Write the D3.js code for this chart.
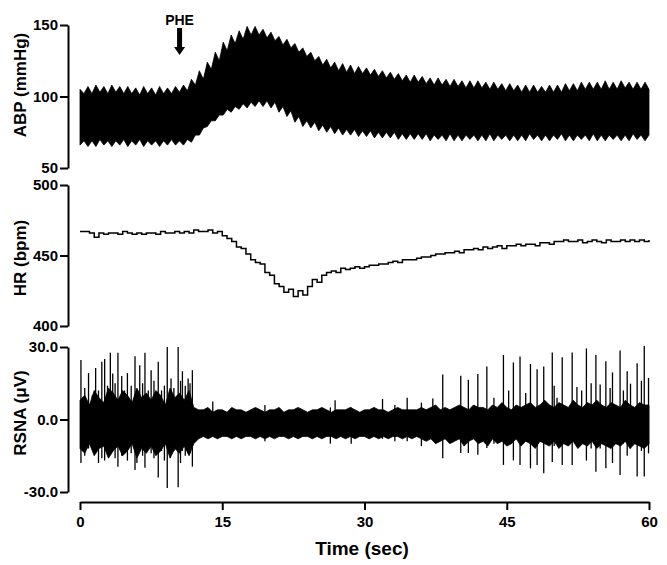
<!DOCTYPE html>
<html><head><meta charset="utf-8">
<script src="https://cdn.jsdelivr.net/npm/d3@7"></script>
<style>
body{margin:0;background:#fff}
svg{display:block}
text{font-family:"Liberation Sans",Arial,Helvetica,sans-serif;font-weight:bold;fill:#000}
</style>
</head><body>
<svg id="chart" width="667" height="565"></svg>
<script>
// ---------- DATA ----------
const timeTicks = [0, 15, 30, 45, 60];
const abpTicks = [50, 100, 150];
const hrTicks = [400, 450, 500];
const rsnaTicks = [-30, 0, 30];
const pheTime = 10.5;

// ABP envelope sampled every respiratory half-cycle (60/143 s)
const abpStep = 60 / 143;
const abpTop = [
105,102,107,102,108,103,107,102,108,103,107,102,107,102,106,101,107,102,106,101,107,102,106,102,107,103,
108,104,112,108,118,112,124,119,131,125,138,132,143,137,146,140,149,143,149,143,147,141,145,139,142,136,140,134,137,131,134,128,131,125,128,122,126,120,124,118,123,117,122,116,121,116,
120,115,119,114,118,113,117,112,116,111,115,110,115,110,114,109,113,108,113,108,112,107,112,107,111,106,111,106,111,106,110,105,110,105,109,104,109,104,108,103,108,103,108,103,107,103,108,103,108,103,109,104,109,104,110,105,110,105,110,105,111,105,110,105,111,106,110,105,110,105,110,105
];
const abpBottom = [
66,69,65,69,65,70,66,69,65,69,66,70,65,69,66,70,65,69,66,69,65,69,66,70,66,69,
66,70,68,73,73,78,79,83,83,87,87,91,89,93,91,95,92,96,93,97,93,97,92,96,89,93,86,90,82,86,79,83,78,82,76,80,75,79,74,78,73,77,73,77,72,76,
72,76,71,75,71,75,71,75,70,74,70,74,70,74,70,74,69,73,70,73,69,74,69,73,69,73,70,73,69,73,69,74,69,73,70,73,69,73,69,73,69,74,70,73,69,73,69,73,70,74,69,73,69,73,70,73,69,74,69,73,69,73,70,73,69,73,69,74,70,73,69,73
];

// Heart rate every 0.5 s
const hrStep = 0.5;
const hrValues = [
467,467,466,463,466,465,466,466,465,467,
466,465,466,465,466,466,465,467,466,466,
467,466,467,466,468,467,467,468,466,467,
464,462,460,456,455,451,447,445,444,438,
436,430,428,424,426,421,425,422,428,433,
431,436,438,439,438,441,440,441,442,441,
442,443,443,444,444,445,446,445,447,447,
447,448,449,449,450,451,451,452,452,453,
452,454,454,455,454,456,455,456,457,455,
457,457,458,457,458,458,457,459,459,458,
460,460,461,460,460,461,459,460,461,460,
459,461,460,460,461,460,461,460,461,460,
461
];

// RSNA dense band envelope every 0.5 s
const rsnaStep = 0.5;
const rsnaHigh = [
8,10,6,12,9,7,13,11,8,12,
10,7,13,9,11,8,12,10,6,13,
9,11,8,12,5,4,4,5,3,4,
4,3,5,4,4,3,4,5,4,3,
4,4,5,3,4,4,5,4,3,4,
4,5,4,3,4,4,4,5,4,3,
4,4,5,4,4,3,4,5,4,4,
4,4,5,4,5,6,4,5,4,5,
6,5,4,6,5,5,4,6,5,7,
5,4,6,5,6,7,5,6,8,6,
5,7,6,5,8,6,5,7,6,8,
6,5,7,6,5,8,6,5,7,6,
6
];
const rsnaLow = [
-12,-14,-10,-15,-12,-11,-16,-13,-11,-15,
-13,-10,-16,-12,-14,-11,-15,-13,-10,-16,
-12,-14,-11,-15,-10,-8,-7,-8,-7,-8,
-7,-7,-8,-7,-8,-7,-7,-8,-7,-8,
-7,-8,-7,-7,-8,-7,-8,-7,-7,-8,
-7,-8,-7,-7,-8,-7,-8,-7,-8,-7,
-7,-8,-7,-8,-7,-8,-7,-7,-8,-7,
-8,-7,-8,-9,-8,-10,-9,-8,-10,-9,
-8,-11,-9,-8,-10,-9,-11,-8,-10,-9,
-11,-10,-8,-11,-9,-10,-12,-9,-10,-11,
-9,-12,-10,-11,-9,-12,-10,-11,-9,-12,
-10,-11,-12,-10,-11,-9,-12,-10,-11,-12,
-10
];

// RSNA spikes (time s, peak µV, trough µV)
const spikeTime = [
0.1,0.5,0.9,1.3,1.65,1.95,2.3,2.6,2.9,3.2,3.45,3.7,4.0,4.4,4.7,5.0,5.4,5.8,6.0,6.3,6.6,6.85,7.2,7.5,7.8,8.25,8.6,8.9,9.2,9.6,9.9,10.35,10.6,10.8,11.1,11.4,11.6,11.85,
14.0,19.5,26.4,26.9,28.6,31.9,33.2,34.5,36.0,
37.2,38.25,40.15,40.95,41.95,42.9,43.65,44.65,45.2,45.7,46.4,47.0,47.5,48.2,48.9,49.8,50.0,50.3,50.85,51.9,52.4,52.9,53.4,53.9,54.4,54.85,55.45,55.9,56.15,56.95,57.3,57.7,58.05,58.75,59.2,59.5,59.95
];
const spikeHigh = [
24.6,13,19.2,10,21.3,12,23.9,25,14,27.6,19,15,27.6,18,12,19.2,14,26.2,11,22.5,15,27.6,12,20.4,16,23.9,12,14,30,17,13,30,16,20,14,17,15,20.4,
7.5,6,5,8,5,8.5,6,9,7,
8.7,18.6,18.1,16.5,18.8,21.9,9,26.7,12,23.6,26.1,11,23,20.8,21.9,27.7,14,9,25.8,27.7,13.5,12,29.4,15,26.7,14.5,24.1,13,19.5,28.6,12,20,14.8,23.3,16,30.4,17.2
];
const spikeLow = [
-18,-15,-12,-11,-13,-18,-16,-17,-12,-14,-12,-16,-19.5,-15,-11,-17,-14,-20.9,-18,-13,-15,-20,-12,-14,-16,-24,-13,-17,-28.3,-12,-13,-28,-18,-13,-15,-14,-14,-19.5,
-6,-9,-10,-7,-10,-8,-9,-9,-11,
-8,-16,-13.9,-13.9,-14.6,-11.8,-10,-18.8,-10,-16.9,-18.8,-9,-20.2,-18.8,-22.2,-17.6,-11,-10,-18.8,-18.8,-9,-9,-17,-12,-21.6,-12,-20.2,-11,-18,-23,-10,-15,-12,-23.6,-13,-23.6,-14
];

// ---------- CHART ----------
const svg = d3.select("#chart");
const x = d3.scaleLinear().domain([0, 60]).range([80, 649]);
const yABP = d3.scaleLinear().domain([50, 150]).range([168, 25]);
const yHR = d3.scaleLinear().domain([400, 500]).range([326, 185]);
const yRSNA = d3.scaleLinear().domain([-30, 30]).range([492, 347]);
const axisX = 68;

// ABP band
const nABP = Math.min(abpTop.length, abpBottom.length);
svg.append("path")
  .datum(abpTop.slice(0, nABP))
  .attr("fill", "#000")
  .attr("stroke", "#000")
  .attr("stroke-width", 0.8)
  .attr("d", d3.area()
    .x((d, i) => x(Math.min(60, i * abpStep)))
    .y1(d => yABP(d))
    .y0((d, i) => yABP(abpBottom[i])));

// HR trace
svg.append("path")
  .datum(hrValues)
  .attr("fill", "none")
  .attr("stroke", "#000")
  .attr("stroke-width", 1.5)
  .attr("d", d3.line()
    .x((d, i) => x(i * hrStep))
    .y(d => yHR(d))
    .curve(d3.curveStepAfter));

// RSNA band
svg.append("path")
  .datum(rsnaHigh)
  .attr("fill", "#000")
  .attr("stroke", "#000")
  .attr("stroke-width", 0.8)
  .attr("d", d3.area()
    .x((d, i) => x(i * rsnaStep))
    .y1(d => yRSNA(d))
    .y0((d, i) => yRSNA(rsnaLow[i])));

// RSNA spikes
svg.append("g").selectAll("line")
  .data(spikeTime)
  .join("line")
  .attr("x1", d => x(d)).attr("x2", d => x(d))
  .attr("y1", (d, i) => yRSNA(spikeHigh[i]))
  .attr("y2", (d, i) => yRSNA(spikeLow[i]))
  .attr("stroke", "#000")
  .attr("stroke-width", 1.3);

// Axes
function styleAxis(g) {
  g.select(".domain").attr("stroke", "#000").attr("stroke-width", 2);
  g.selectAll(".tick line").attr("stroke", "#000").attr("stroke-width", 2);
  g.selectAll(".tick text").style("font-size", "15px").style("font-weight", "bold")
    .style("font-family", '"Liberation Sans", Arial, sans-serif').attr("fill", "#000");
}
svg.append("g").attr("transform", `translate(${axisX},0)`)
  .call(d3.axisLeft(yABP).tickValues(abpTicks).tickSize(8).tickSizeOuter(0).tickPadding(2).tickFormat(d3.format("d")))
  .call(styleAxis);
svg.append("g").attr("transform", `translate(${axisX},0)`)
  .call(d3.axisLeft(yHR).tickValues(hrTicks).tickSize(8).tickSizeOuter(0).tickPadding(2).tickFormat(d3.format("d")))
  .call(styleAxis);
svg.append("g").attr("transform", `translate(${axisX},0)`)
  .call(d3.axisLeft(yRSNA).tickValues(rsnaTicks).tickSize(8).tickSizeOuter(0).tickPadding(2).tickFormat(d => d3.format(".1f")(d).replace("\u2212", "-")))
  .call(styleAxis);
svg.append("g").attr("transform", `translate(0,502)`)
  .call(d3.axisBottom(x).tickValues(timeTicks).tickSize(8).tickSizeOuter(0).tickPadding(6).tickFormat(d3.format("d")))
  .call(styleAxis);

// Axis titles
[["ABP (mmHg)", 85], ["HR (bpm)", 258], ["RSNA (\u03bcV)", 413]].forEach(([t, cy]) => {
  svg.append("text")
    .attr("transform", `translate(20,${cy}) rotate(-90)`)
    .attr("text-anchor", "middle")
    .attr("dy", "0.36em")
    .style("font-size", "17px")
    .text(t);
});
svg.append("text")
  .attr("x", 362).attr("y", 555)
  .attr("text-anchor", "middle")
  .style("font-size", "19px")
  .text("Time (sec)");

// PHE marker
const px = x(pheTime);
svg.append("text")
  .attr("x", px).attr("y", 25)
  .attr("text-anchor", "middle")
  .style("font-size", "14px")
  .text("PHE");
svg.append("path")
  .attr("fill", "#000")
  .attr("d", `M${px - 2.5},28 L${px + 2.5},28 L${px + 2.5},47 L${px + 5.5},47 L${px},55 L${px - 5.5},47 L${px - 2.5},47 Z`);
</script>
</body></html>
